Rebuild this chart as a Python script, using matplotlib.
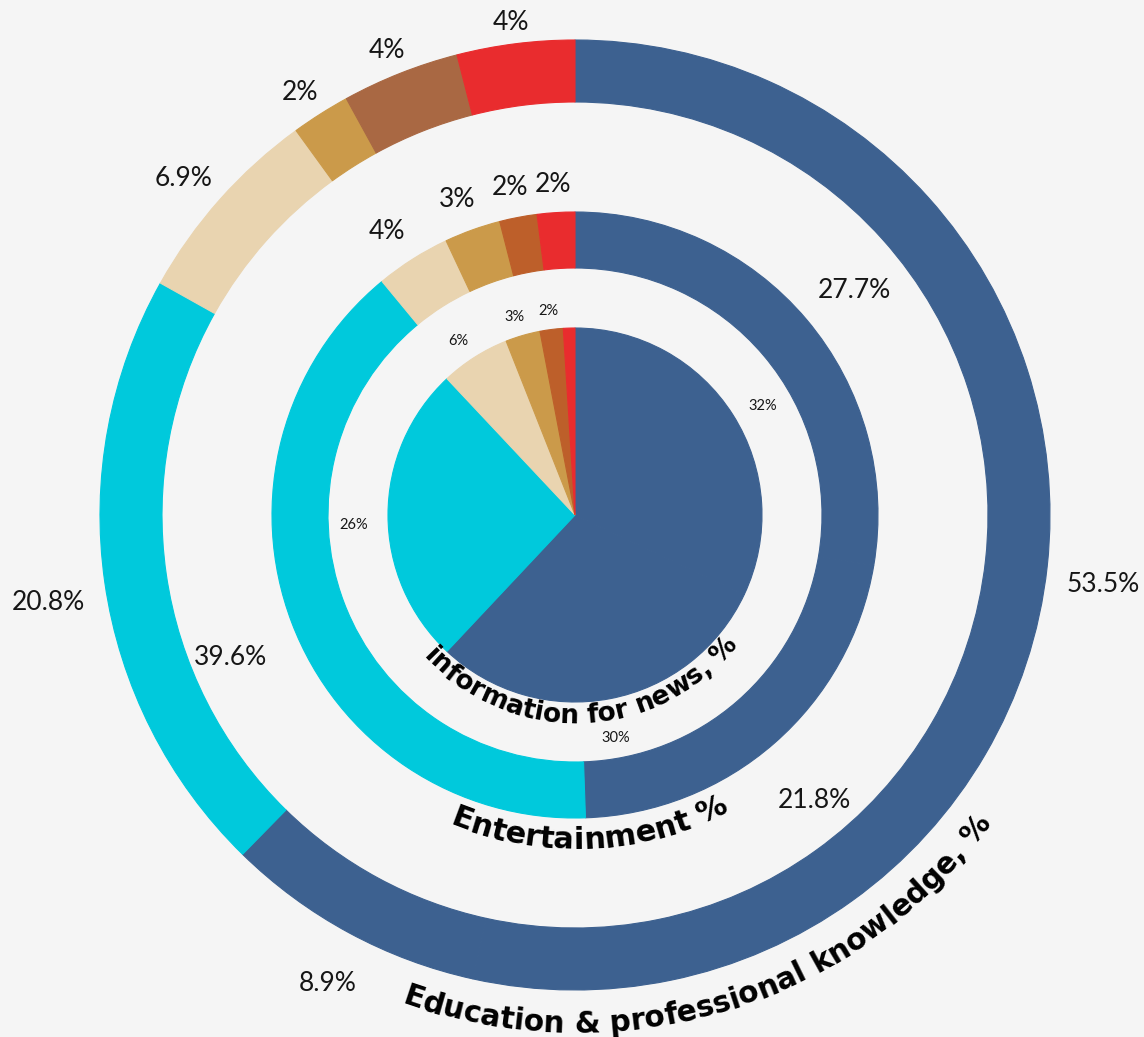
import numpy as np
import matplotlib
matplotlib.use("Agg")
import matplotlib.pyplot as plt
from matplotlib.font_manager import FontProperties, findfont
from matplotlib.ft2font import FT2Font

W, H = 1144, 1037
CX, CY = 575, H - 515
BG = "#f5f5f5"
LABEL_FONT = "Lato"
TITLE_FONT = "DejaVu Sans"

# outer ring - education & professional knowledge
edu_values = [53.5, 8.9, 20.8, 6.9, 2, 4, 4]
edu_labels = ["53.5%", "8.9%", "20.8%", "6.9%", "2%", "4%", "4%"]
edu_colors = ["#3d6190", "#3d6190", "#00c9dc", "#e9d4b0", "#cb9a4a", "#a96843", "#e92c2e"]

# middle ring - entertainment
ent_values = [27.7, 21.8, 39.6, 4, 3, 2, 2]
ent_labels = ["27.7%", "21.8%", "39.6%", "4%", "3%", "2%", "2%"]
ent_colors = ["#3d6190", "#3d6190", "#00c9dc", "#e9d4b0", "#cb9a4a", "#bd5f2a", "#e92c2e"]

# inner pie - information for news
news_values = [32, 30, 26, 6, 3, 2, 1]
news_labels = ["32%", "30%", "26%", "6%", "3%", "2%", ""]
news_colors = ["#3d6190", "#3d6190", "#00c9dc", "#e9d4b0", "#cb9a4a", "#bd5f2a", "#e92c2e"]

fig = plt.figure(figsize=(W / 100, H / 100), dpi=100, facecolor=BG)
ax = fig.add_axes([0, 0, 1, 1])
ax.set_facecolor(BG)


def ring(values, colors, radius, width=None):
    props = dict(linewidth=0.8, antialiased=True)
    if width is not None:
        props["width"] = width
    wedges, _ = ax.pie(values, colors=colors, radius=radius, center=(CX, CY),
                       startangle=90, counterclock=False, wedgeprops=props)
    for w in wedges:
        w.set_edgecolor(w.get_facecolor())
    return wedges


outer = ring(edu_values, edu_colors, 475, 62)
middle = ring(ent_values, ent_colors, 303, 56)
inner = ring(news_values, news_colors, 187)

ax.set_xlim(0, W)
ax.set_ylim(0, H)
ax.set_aspect("equal")
ax.axis("off")

renderer = fig.canvas.get_renderer()


def ring_labels(wedges, labels, radius, pad, size, drop):
    # label sits just outside the slice, pushed out by its own half extent
    for w, lab in zip(wedges, labels):
        if not lab:
            continue
        ang = np.deg2rad((w.theta1 + w.theta2) / 2)
        t = ax.text(0, 0, lab, fontsize=size, family=LABEL_FONT,
                    color="#161616", ha="center", va="center")
        bb = t.get_window_extent(renderer)
        r = radius + pad + abs(np.cos(ang)) * bb.width / 2 + abs(np.sin(ang)) * bb.height / 2
        t.set_position((CX + r * np.cos(ang), CY + r * np.sin(ang) - drop))


ring_labels(outer, edu_labels, 475, 19, 19, 12)
ring_labels(middle, ent_labels, 303, 27, 19, 12)
ring_labels(inner, news_labels, 187, 20, 10.5, 10)


def arc_text(s, radius, center_deg, size):
    """Bold text bent along the bottom of a circle, tops facing the centre.
    center_deg is measured clockwise from 12 o'clock."""
    prop = FontProperties(family=TITLE_FONT, weight="bold", size=size)
    font = FT2Font(findfont(prop))
    font.set_size(size, 100)
    advances = []
    for c in s:
        g = font.load_char(ord(c))
        advances.append(g.linearHoriAdvance / 65536)
    total = sum(advances)
    x = 0
    for c, a in zip(s, advances):
        xc = x + a / 2 - total / 2
        x += a
        if c == " ":
            continue
        theta = center_deg - np.degrees(xc / radius)
        alpha = np.deg2rad(90 - theta)
        ax.text(CX + radius * np.cos(alpha), CY + radius * np.sin(alpha), c,
                fontproperties=prop, color="black", ha="center", va="baseline",
                rotation=180 - theta, rotation_mode="anchor")


arc_text("information for news, %", 208, 177.8, 19)
arc_text("Entertainment %", 334, 177.3, 22)
arc_text("Education & professional knowledge, %", 518, 163, 21.3)

fig.savefig("out.png", dpi=100, facecolor=BG)
